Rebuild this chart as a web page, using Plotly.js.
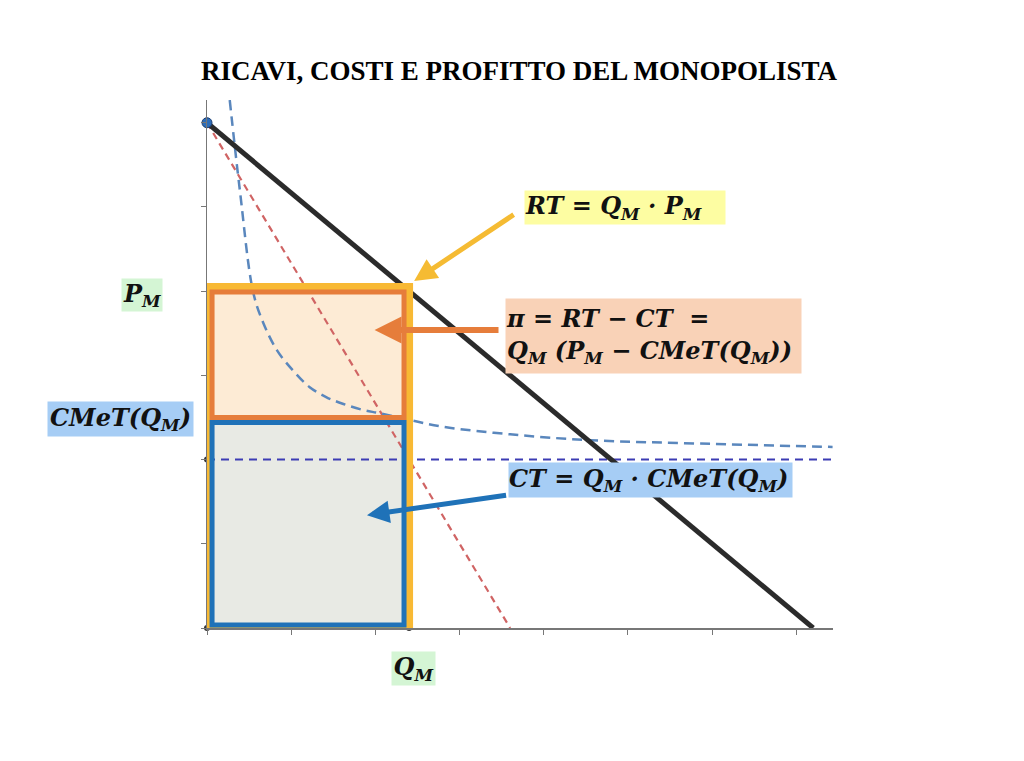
<!DOCTYPE html>
<html>
<head>
<meta charset="utf-8">
<script src="https://cdn.plot.ly/plotly-3.0.1.min.js"></script>
<style>
  html, body { margin: 0; padding: 0; background: #fff; }
  #grafico { width: 1024px; height: 761px; }
</style>
</head>
<body>
<div id="grafico"></div>
<script>
// domanda (nera) e ricavo marginale (rossa tratteggiata)
const qDomanda = [0, 7.2];
const pDomanda = [6, 0];
const qRMg = [0, 3.6];
const pRMg = [6, 0];

// costo marginale costante (blu scuro tratteggiato)
const qCMg = [0, 7.43];
const pCMg = [2, 2];

// costo medio totale CMeT
const qCMeT = [0.27, 0.39, 0.55, 0.67, 0.83, 1.02, 1.22, 1.42, 1.62, 1.85, 2.05, 2.41, 2.80, 3.60, 4.55, 5.86, 7.43];
const pCMeT = [6.27, 5.20, 3.98, 3.62, 3.30, 3.06, 2.86, 2.74, 2.66, 2.59, 2.55, 2.47, 2.39, 2.30, 2.23, 2.19, 2.15];

// equilibrio del monopolista
const Q_M = 2.4;
const P_M = 4.05;
const CMeT_QM = 2.5;

const serif = 'Liberation Serif, DejaVu Serif, serif';
const mate = 'DejaVu Serif, Liberation Serif, serif';
const ins = 0.06; // rientro dei rettangoli interni

const tracce = [
  {x: qRMg, y: pRMg, mode: 'lines', line: {color: '#d06464', width: 2.2, dash: '7px,5px'}, hoverinfo: 'skip'},
  {x: qCMeT, y: pCMeT, mode: 'lines', line: {color: '#5a87bd', width: 2.5, shape: 'spline', dash: '10px,6px'}, hoverinfo: 'skip'},
  {x: qCMg, y: pCMg, mode: 'lines', line: {color: '#3c3cb4', width: 2, dash: '8px,6px'}, hoverinfo: 'skip'},
  {x: qDomanda, y: pDomanda, mode: 'lines', line: {color: '#2b2b2b', width: 5}, hoverinfo: 'skip'},
  {x: [0, Q_M, 0, Q_M], y: [0, 0, 2, 2], mode: 'markers', marker: {color: '#333', size: 6}, hoverinfo: 'skip', cliponaxis: false},
  {x: [qDomanda[0]], y: [pDomanda[0]], mode: 'markers', marker: {color: '#2e6db8', size: 10, line: {color: '#1d3f73', width: 1}}, hoverinfo: 'skip', cliponaxis: false}
];

const shapes = [
  // riempimenti sotto le curve
  {type: 'rect', layer: 'below', xref: 'x', yref: 'y', x0: ins, x1: Q_M - ins, y0: CMeT_QM, y1: P_M - ins, fillcolor: '#fdebd5', line: {width: 0}},
  {type: 'rect', layer: 'below', xref: 'x', yref: 'y', x0: ins, x1: Q_M - ins, y0: ins * 0.6, y1: CMeT_QM - ins, fillcolor: '#e8eae4', line: {width: 0}},
  // bordi sopra
  {type: 'rect', layer: 'above', xref: 'x', yref: 'y', x0: 0, x1: Q_M, y0: 0, y1: P_M, line: {color: '#f8b934', width: 8}},
  {type: 'rect', layer: 'above', xref: 'x', yref: 'y', x0: ins, x1: Q_M - ins, y0: CMeT_QM, y1: P_M - ins, line: {color: '#e67d3b', width: 5}},
  {type: 'rect', layer: 'above', xref: 'x', yref: 'y', x0: ins, x1: Q_M - ins, y0: ins * 0.6, y1: CMeT_QM - ins, line: {color: '#1f72b8', width: 5}}
];

const fTesto = {family: mate, size: 24, color: '#111'};
const annotations = [
  // etichette sugli assi (in coordinate paper: fuori dall'area del grafico)
  {xref: 'paper', yref: 'paper', x: -0.1038, y: 0.6307, text: '<b><i>P<sub>M</sub></i></b>', showarrow: false,
   bgcolor: '#d4f5d4', font: fTesto, xanchor: 'center', yanchor: 'middle', width: 40, height: 32, borderpad: 0},
  {xref: 'paper', yref: 'paper', x: -0.1382, y: 0.3949, text: '<b><i>CMeT(Q<sub>M</sub>)</i></b>', showarrow: false,
   bgcolor: '#a6cdf5', font: fTesto, xanchor: 'center', yanchor: 'middle', width: 145, height: 34, borderpad: 0},
  {xref: 'paper', yref: 'paper', x: 0.3299, y: -0.0767, text: '<b><i>Q<sub>M</sub></i></b>', showarrow: false,
   bgcolor: '#d4f5d4', font: fTesto, xanchor: 'center', yanchor: 'middle', width: 43, height: 33, borderpad: 0},
  // riquadri con le formule
  {xref: 'x', yref: 'y', x: 4.96, y: 4.99, text: '<b><i>RT = Q<sub>M</sub> · P<sub>M</sub></i></b>', showarrow: false,
   bgcolor: '#fdfda2', font: fTesto, align: 'left', xanchor: 'center', yanchor: 'middle', width: 200, height: 33, borderpad: 0},
  {xref: 'x', yref: 'y', x: 5.30, y: 3.47, text: '<b><i>π = RT − CT  =<br>Q<sub>M</sub> (P<sub>M</sub> − CMeT(Q<sub>M</sub>))</i></b>', showarrow: false,
   bgcolor: '#f9d2b7', font: fTesto, align: 'left', xanchor: 'center', yanchor: 'middle', width: 295, height: 74, borderpad: 0},
  {xref: 'x', yref: 'y', x: 5.27, y: 1.76, text: '<b><i>CT = Q<sub>M</sub> · CMeT(Q<sub>M</sub>)</i></b>', showarrow: false,
   bgcolor: '#a6cdf5', font: fTesto, align: 'left', xanchor: 'center', yanchor: 'middle', width: 283, height: 34, borderpad: 0},
  // frecce
  {xref: 'x', yref: 'y', axref: 'x', ayref: 'y', x: Q_M + 0.06, y: P_M + 0.07, ax: 3.66, ay: 4.92,
   showarrow: true, arrowhead: 2, arrowsize: 0.9, arrowwidth: 5, arrowcolor: '#f5bb33', text: ''},
  {xref: 'x', yref: 'y', axref: 'x', ayref: 'y', x: 1.99, y: 3.54, ax: 3.48, ay: 3.54,
   showarrow: true, arrowhead: 2, arrowsize: 0.9, arrowwidth: 6, arrowcolor: '#e67d3b', text: ''},
  {xref: 'x', yref: 'y', axref: 'x', ayref: 'y', x: 1.9, y: 1.34, ax: 3.57, ay: 1.58,
   showarrow: true, arrowhead: 2, arrowsize: 0.9, arrowwidth: 5, arrowcolor: '#1f72b8', text: ''}
];

const asse = {
  showgrid: false, zeroline: false, showline: true, linecolor: '#777', linewidth: 1.5,
  ticks: 'outside', ticklen: 5, tickcolor: '#777', tickwidth: 1,
  tick0: 0, dtick: 1, showticklabels: false, fixedrange: true
};

const layout = {
  width: 1024, height: 761,
  margin: {l: 207, r: 191, t: 100, b: 133},
  paper_bgcolor: '#fff', plot_bgcolor: '#fff',
  showlegend: false,
  title: {text: '<b>RICAVI, COSTI E PROFITTO DEL MONOPOLISTA</b>', font: {family: serif, size: 27, color: '#000'},
          x: 519 / 1024, xanchor: 'center', y: 1 - 71 / 761, yanchor: 'middle', xref: 'container', yref: 'container'},
  xaxis: Object.assign({range: [0, 7.435]}, asse),
  yaxis: Object.assign({range: [0, 6.27]}, asse),
  shapes: shapes,
  annotations: annotations
};

Plotly.newPlot('grafico', tracce, layout, {displayModeBar: false, staticPlot: true});
</script>
</body>
</html>
